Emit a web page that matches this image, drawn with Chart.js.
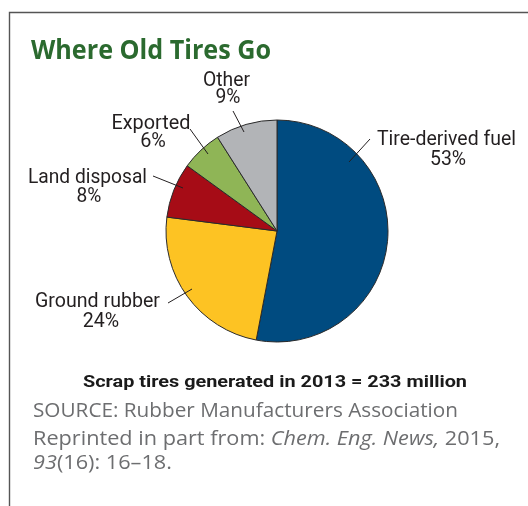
<!DOCTYPE html>
<html><head><meta charset="utf-8">
<script src="https://cdn.jsdelivr.net/npm/chart.js@4/dist/chart.umd.min.js"></script>
<style>html,body{margin:0;padding:0;background:#fff;}canvas{display:block;}</style>
</head><body>
<canvas id="c" width="528" height="506"></canvas>
<script>
// ---- data ----
const categories = ['Tire-derived fuel', 'Ground rubber', 'Land disposal', 'Exported', 'Other'];
const shares = [53, 24, 8, 6, 9];
const percentLabels = ['53%', '24%', '8%', '6%', '9%'];
const titleText = 'Where Old Tires Go';
const totalNote = 'Scrap tires generated in 2013 = 233 million';
const sourceNote = 'SOURCE: Rubber Manufacturers Association';
const reprintParts = ['Reprinted in part from: ', 'Chem. Eng. News,', ' 2015,'];
const reprintParts2 = ['93', '(16): 16\u201318.'];

// ---- styles ----
const sliceColors = ['#004b80', '#fdc323', '#a60c16', '#8fb556', '#b2b4b7'];
// label placement (annotation layout): name line, pct line, leader line
const labelLayout = [
  {nx: 446.5, nw: 139, ny: 145, px: 448, py: 165, lo: [370, 139], li: [72, -69]},
  {nx: 97.5, nw: 125, ny: 307, px: 101, py: 327, lo: [168, 303], li: [-85, 58]},
  {nx: 87.5, nw: 119, ny: 183, px: 89, py: 202, lo: [153, 176], li: [-94, -43]},
  {nx: 151, nw: 79, ny: 129, px: 153, py: 147, lo: [190, 129], li: [-69, -77]},
  {nx: 226.5, nw: 47, ny: 86, px: 228, py: 103, lo: [233, 111], li: [-33, -99]}
];
const LABEL_FONT = '20px Roboto';
const LABEL_COLOR = '#231f20';
const BODY = '20px "Open Sans"';
const BODY_I = 'italic 20px "Open Sans"';

function drawSegs(ctx, segs, x, y, align, targetW, fixedScale) {
  let w = 0;
  segs.forEach(s => { ctx.font = s.font; s.w = ctx.measureText(s.t).width; w += s.w; });
  const sx = fixedScale || (targetW ? targetW / w : 1);
  const total = w * sx;
  const startX = align === 'center' ? x - total / 2 : (align === 'right' ? x - total : x);
  ctx.save();
  ctx.translate(startX, y);
  ctx.scale(sx, 1);
  ctx.textAlign = 'left';
  ctx.textBaseline = 'alphabetic';
  let cur = 0;
  segs.forEach(s => { ctx.font = s.font; ctx.fillStyle = s.color; ctx.fillText(s.t, cur, 0); cur += s.w; });
  ctx.restore();
  return sx;
}

const annotations = {
  id: 'annotations',
  afterDraw(chart) {
    const ctx = chart.ctx;
    ctx.save();
    // frame
    ctx.strokeStyle = '#555';
    ctx.lineWidth = 1.4;
    ctx.beginPath();
    ctx.moveTo(9.5, 506);
    ctx.lineTo(9.5, 12.5);
    ctx.lineTo(528, 12.5);
    ctx.stroke();

    // title
    drawSegs(ctx, [{t: titleText, font: 'bold 26px "Open Sans"', color: '#2b6a2f'}], 31, 59, 'left', 240);

    // slice labels
    const meta = chart.getDatasetMeta(0);
    const cx = meta.data[0].x, cy = meta.data[0].y;
    categories.forEach((name, i) => {
      const L = labelLayout[i];
      const sx = drawSegs(ctx, [{t: name, font: LABEL_FONT, color: LABEL_COLOR}], L.nx, L.ny, 'center', L.nw);
      drawSegs(ctx, [{t: percentLabels[i], font: LABEL_FONT, color: LABEL_COLOR}], L.px, L.py, 'center', null, sx);
      ctx.strokeStyle = '#231f20';
      ctx.lineWidth = 1;
      ctx.beginPath();
      ctx.moveTo(L.lo[0], L.lo[1]);
      ctx.lineTo(cx + L.li[0], cy + L.li[1]);
      ctx.stroke();
    });

    // footer
    drawSegs(ctx, [{t: totalNote, font: 'bold 17px Roboto', color: '#1a1a1a'}], 275, 387, 'center', 384);
    drawSegs(ctx, [{t: sourceNote, font: BODY, color: '#6d6e70'}], 33, 417, 'left', 425);
    const rsx = drawSegs(ctx, [
      {t: reprintParts[0], font: BODY, color: '#6d6e70'},
      {t: reprintParts[1], font: BODY_I, color: '#6d6e70'},
      {t: reprintParts[2], font: BODY, color: '#6d6e70'}
    ], 33, 445, 'left', 467);
    drawSegs(ctx, [
      {t: reprintParts2[0], font: BODY_I, color: '#6d6e70'},
      {t: reprintParts2[1], font: BODY, color: '#6d6e70'}
    ], 33, 469, 'left', null, rsx);
    ctx.restore();
  }
};

new Chart(document.getElementById('c'), {
  type: 'pie',
  data: {
    labels: categories,
    datasets: [{
      data: shares,
      backgroundColor: sliceColors,
      borderColor: '#2a2a2a',
      borderWidth: 1,
      radius: 111
    }]
  },
  options: {
    responsive: false,
    devicePixelRatio: 1,
    animation: false,
    layout: {padding: {left: 146, right: 120, top: 100, bottom: 144}},
    plugins: {legend: {display: false}, tooltip: {enabled: false}, title: {display: false}}
  },
  plugins: [annotations]
});
</script>
</body></html>
